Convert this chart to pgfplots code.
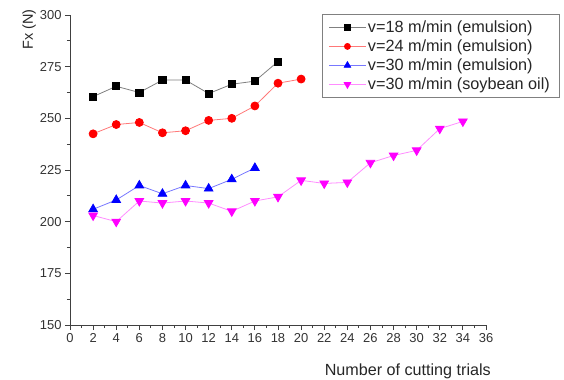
\documentclass[border=0pt]{standalone}
\usepackage{pgfplots}
\pgfplotsset{compat=1.18}
\usepackage{fontspec}
\setmainfont{Liberation Sans}
\definecolor{mag}{RGB}{255,0,255}
\definecolor{magl}{RGB}{255,140,255}
\definecolor{redl}{RGB}{255,120,120}
\definecolor{bluel}{RGB}{120,120,255}
\begin{document}
\begin{tikzpicture}
\useasboundingbox (-70bp,-55bp) rectangle (494bp,325bp);
\begin{axis}[
  scale only axis,
  width=416bp, height=310bp,
  xmin=0, xmax=36, ymin=150, ymax=300,
  xtick={0,2,...,36}, ytick={150,175,...,300},
  minor x tick num=1, minor y tick num=1,
  axis x line*=bottom, axis y line*=left,
  axis line style={-, line width=0.8pt, black!75},
  tick align=outside,
  major tick length=5bp, minor tick length=3bp,
  tick style={black!75, line width=0.8pt},
  /pgf/number format/assume math mode=true,
  ticklabel style={font=\fontsize{13}{15}\selectfont, text=black!80},
  ylabel={Fx (N)},
  ylabel style={at={(axis description cs:-0.098,1.018)}, anchor=east, inner sep=0pt, font=\fontsize{14.5}{17}\selectfont, text=black!85},
  xlabel={Number of cutting trials},
  xlabel style={at={(axis description cs:0.812,0)}, yshift=-50bp, anchor=base, inner sep=0pt, font=\fontsize{16.2}{19}\selectfont, text=black!85},
  legend style={at={(axis description cs:1.1755,1.003)}, anchor=north east, draw=black!50, font=\fontsize{16.3}{19}\selectfont, text=black!85, inner xsep=7pt, inner ysep=4.5pt, row sep=1.8pt},
  legend cell align=left,
  legend image code/.code={\draw[mark repeat=2, mark phase=2, #1, every mark/.append style={scale=0.75}] plot coordinates {(0cm,0cm) (0.64cm,0cm) (1.28cm,0cm)};},
]
\addplot[color=black!50, line width=0.8pt, mark=square*, mark size=3.6pt, mark options={draw=black, fill=black, solid}] coordinates {
(2,260.5) (4,265.5) (6,262.5) (8,268.5) (10,268.5) (12,262) (14,266.5) (16,268) (18,277.5)};
\addlegendentry{v=18 m/min (emulsion)}
\addplot[color=redl, line width=0.8pt, mark=*, mark size=4pt, mark options={draw=red, fill=red, solid}] coordinates {
(2,242.5) (4,247) (6,248) (8,243) (10,244) (12,249) (14,250) (16,256) (18,267) (20,269)};
\addlegendentry{v=24 m/min (emulsion)}
\addplot[color=bluel, line width=0.8pt, mark=triangle*, mark size=5pt, mark options={draw=blue, fill=blue, solid}] coordinates {
(2,206) (4,210.5) (6,217.5) (8,213.5) (10,217.5) (12,216) (14,220.5) (16,226)};
\addlegendentry{v=30 m/min (emulsion)}
\addplot[color=magl, line width=0.8pt, mark=triangle*, mark size=5pt, mark options={draw=mag, fill=mag, solid, rotate=180}] coordinates {
(2,203) (4,200) (6,210) (8,209) (10,210) (12,209) (14,205) (16,210) (18,212) (20,220) (22,218.5) (24,219) (26,228.5) (28,232) (30,234.5) (32,245) (34,248.5)};
\addlegendentry{v=30 m/min (soybean oil)}
\end{axis}
\end{tikzpicture}
\end{document}
